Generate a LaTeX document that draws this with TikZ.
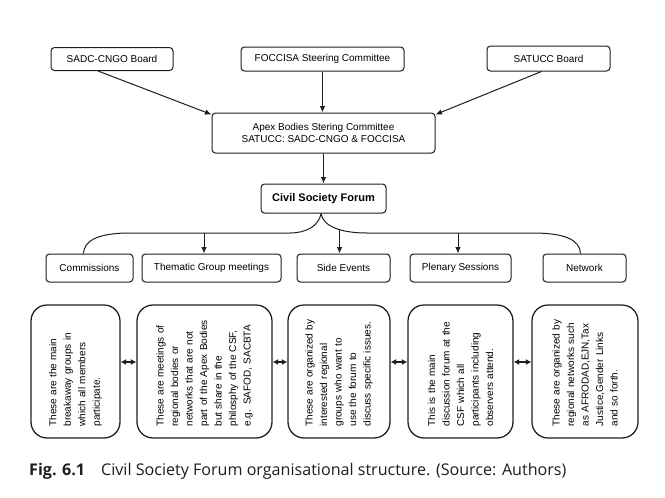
\documentclass[tikz,border=0pt]{standalone}
\usepackage{fontspec}
\setmainfont{Liberation Sans}
\newfontfamily\capfont{Open Sans}
\usetikzlibrary{arrows.meta}
\definecolor{ink}{HTML}{1E1E1E}
\begin{document}
\begin{tikzpicture}[x=1pt,y=-1pt,
  box/.style={draw=ink, line width=1pt, rounded corners=3.5pt, inner sep=0pt, align=center, font=\fontsize{10}{12}\selectfont},
  bigbox/.style={draw=ink, line width=1.25pt, rounded corners=16pt, inner sep=0pt},
  vtext/.style={rotate=90, text width=110pt, align=left, inner sep=0pt, font=\fontsize{10}{14.5}\selectfont},
  arr/.style={-{Latex[length=6.5pt,width=5.5pt]}, line width=1pt, draw=ink},
  darr/.style={{Latex[length=5.5pt,width=6pt]}-{Latex[length=5.5pt,width=6pt]}, line width=1.2pt, draw=ink},
  bracepath/.style={line width=1pt, draw=ink}]
\useasboundingbox (0,0) rectangle (665,498);
% top row
\node[box, minimum width=122pt, minimum height=23pt] (sadc) at (112,59) {SADC-CNGO Board};
\node[box, minimum width=163pt, minimum height=24pt] (foccisa) at (322.5,59) {FOCCISA Steering Committee};
\node[box, minimum width=123pt, minimum height=25pt] (satucc) at (548.5,58.5) {SATUCC Board};
\node[box, minimum width=223pt, minimum height=40pt] (apex) at (323.5,133) {Apex Bodies Stering Committee\\SATUCC: SADC-CNGO \& FOCCISA};
\node[box, minimum width=125pt, minimum height=29pt, font=\bfseries\fontsize{11}{13}\selectfont] (csf) at (323.5,198.5) {Civil Society Forum};
% middle row
\node[box, minimum width=87pt, minimum height=28pt] (comm) at (89.5,268) {Commissions};
\node[box, minimum width=139pt, minimum height=28pt] (them) at (211.5,268) {Thematic Group meetings};
\node[box, minimum width=93pt, minimum height=28pt] (side) at (343.5,268) {Side Events};
\node[box, minimum width=101pt, minimum height=28pt] (plen) at (460.5,268) {Plenary Sessions};
\node[box, minimum width=83pt, minimum height=28pt] (netw) at (584.5,268) {Network};
% bottom row
\node[bigbox, minimum width=89pt, minimum height=133pt] (b1) at (75.5,371.5) {};
\node[bigbox, minimum width=135pt, minimum height=133pt] (b2) at (204.5,371.5) {};
\node[bigbox, minimum width=102pt, minimum height=133pt] (b3) at (339,371.5) {};
\node[bigbox, minimum width=105pt, minimum height=133pt] (b4) at (460.5,371.5) {};
\node[bigbox, minimum width=106pt, minimum height=133pt] (b5) at (585,371.5) {};
\node[vtext] (t1) at (b1.center) {These are the main\\breakaway groups in\\which all members\\participate.};
\node[vtext] (t2) at (b2.center) {These are meetings of\\regional bodies or\\networks that are not\\part of the Apex Bodies\\but share in the\\philosphy of the CSF,\\e.g. SAFOD, SACBTA};
\node[vtext] (t3) at (b3.center) {These are organized by\\interested regional\\groups who want to\\use the forum to\\discuss specific issues.};
\node[vtext] (t4) at (b4.center) {This is the main\\discussion forum at the\\CSF which all\\participants including\\observers attend.};
\node[vtext] (t5) at (b5.center) {These are organized by\\regional networks such\\as AFRODAD,EJN,Tax\\Justice,Gender Links\\and so forth.};
% top arrows
\draw[arr] ([xshift=-14pt]sadc.south) -- ([yshift=-2pt]apex.north west);
\draw[arr] (foccisa.south) -- (foccisa.south |- apex.north);
\draw[arr] ([xshift=-7pt]satucc.south) -- ([yshift=-2pt]apex.north east);
\draw[arr] (apex.south) -- (csf.north);
% brace
\coordinate (tip) at ([xshift=-2.5pt]csf.south);
\draw[bracepath] (tip) .. controls (319,226) and (306,233) .. (290,233) -- (130,233)
  .. controls (95,233) and (84,242) .. ([xshift=-6pt]comm.north);
\draw[bracepath] (tip) .. controls (323,226) and (340,233) .. (367,233) -- (533,233)
  .. controls (565,233) and (580,240) .. ([xshift=-4pt]netw.north);
\coordinate (thx) at (204,233);
\coordinate (sdx) at (339.5,229.6);
\coordinate (plx) at (458,233);
\draw[arr] (thx) -- (thx |- them.north);
\draw[arr] (sdx) -- (sdx |- side.north);
\draw[arr] (plx) -- (plx |- plen.north);
% double arrows
\coordinate (al) at (0,362);
\draw[darr] (b1.east |- al) -- (b2.west |- al);
\draw[darr] (b2.east |- al) -- (b3.west |- al);
\draw[darr] (b3.east |- al) -- (b4.west |- al);
\draw[darr] (b4.east |- al) -- (b5.west |- al);
% caption
\node[anchor=base west, inner sep=0pt, text=ink, font=\capfont\fontsize{16.1}{19}\selectfont] (cap) at (29,475) {\textbf{Fig. 6.1}\hspace{16pt}Civil Society Forum organisational structure. (Source: Authors)};
\end{tikzpicture}
\end{document}
